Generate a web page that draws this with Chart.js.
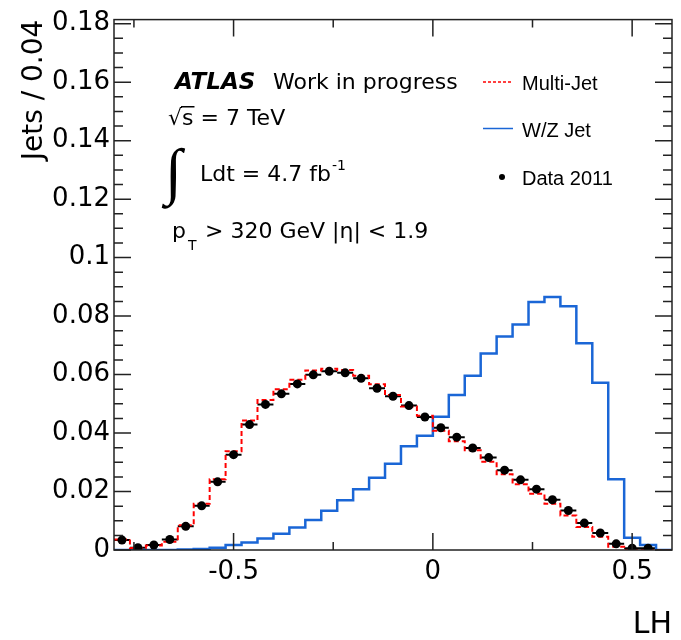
<!DOCTYPE html>
<html>
<head>
<meta charset="utf-8">
<title>LH discriminant</title>
<script src="https://cdn.jsdelivr.net/npm/chart.js@4.4.0/dist/chart.umd.min.js"></script>
<style>
  html, body { margin: 0; padding: 0; background: #fff; }
  canvas { display: block; }
</style>
</head>
<body>
<canvas id="lhChart" width="681" height="640"></canvas>
<script>
// bins of 0.04 in LH, from -0.8 to 0.6
const binWidth = 0.04;
const binCenters = [-0.78, -0.74, -0.70, -0.66, -0.62, -0.58, -0.54, -0.50, -0.46, -0.42,
                    -0.38, -0.34, -0.30, -0.26, -0.22, -0.18, -0.14, -0.10, -0.06, -0.02,
                     0.02,  0.06,  0.10,  0.14,  0.18,  0.22,  0.26,  0.30,  0.34,  0.38,
                     0.42,  0.46,  0.50,  0.54,  0.58];

const data2011 = [0.0034, 0.0008, 0.0017, 0.0036, 0.0081, 0.0151, 0.0233, 0.0326, 0.0429, 0.0498,
                  0.0534, 0.0568, 0.0599, 0.0611, 0.0606, 0.0587, 0.0553, 0.0526, 0.0494, 0.0455,
                  0.0418, 0.0386, 0.0349, 0.0316, 0.0273, 0.0240, 0.0208, 0.0172, 0.0135, 0.0092,
                  0.0058, 0.0021, 0.0006, 0.0006, null];

const multiJet = [0.0036, 0.0007, 0.0015, 0.0028, 0.0085, 0.0158, 0.0242, 0.0338, 0.0443, 0.0513,
                  0.0550, 0.0582, 0.0614, 0.0620, 0.0616, 0.0596, 0.0567, 0.0530, 0.0491, 0.0459,
                  0.0408, 0.0372, 0.0341, 0.0302, 0.0259, 0.0225, 0.0192, 0.0158, 0.0118, 0.0079,
                  0.0045, 0.0011, 0, 0, 0];

const wzJet = [0, 0, 0, 0, 0.0002, 0.0003, 0.0008, 0.0017, 0.0026, 0.0039,
               0.0056, 0.0077, 0.0103, 0.0134, 0.0170, 0.0208, 0.0247, 0.0295, 0.0355, 0.0391,
               0.0456, 0.0530, 0.0596, 0.0672, 0.0730, 0.0771, 0.0848, 0.0865, 0.0834, 0.0707,
               0.0572, 0.0242, 0.0042, 0.0017, 0];

const xTicks = [-0.5, 0, 0.5];
const xMinorTicks = [-0.75, -0.25, 0.25];
const yTicks = [0, 0.02, 0.04, 0.06, 0.08, 0.1, 0.12, 0.14, 0.16, 0.18];

const tickFont = { family: '"DejaVu Sans"', size: 26 };

// histogram outline: one point per lower bin edge + closing edge
function histPoints(values) {
  const pts = binCenters.map((c, i) => ({ x: c - binWidth / 2, y: values[i] }));
  pts.push({ x: binCenters[binCenters.length - 1] + binWidth / 2, y: values[values.length - 1] });
  return pts;
}

// ROOT style frame with inward ticks on all four sides
const framePlugin = {
  id: 'frame',
  afterDraw(chart) {
    const { ctx, chartArea: a, scales: { x, y } } = chart;
    ctx.save();
    ctx.strokeStyle = '#222';
    ctx.lineWidth = 1.5;
    ctx.strokeRect(a.left, a.top, a.right - a.left, a.bottom - a.top);
    ctx.beginPath();
    const tickX = (v, len) => {
      const px = x.getPixelForValue(v);
      ctx.moveTo(px, a.bottom); ctx.lineTo(px, a.bottom - len);
      ctx.moveTo(px, a.top); ctx.lineTo(px, a.top + len);
    };
    const tickY = (v, len) => {
      const py = y.getPixelForValue(v);
      ctx.moveTo(a.left, py); ctx.lineTo(a.left + len, py);
      ctx.moveTo(a.right, py); ctx.lineTo(a.right - len, py);
    };
    xTicks.forEach(v => tickX(v, 17));
    xMinorTicks.forEach(v => tickX(v, 8));
    for (let i = 0; i < yTicks.length; i++) {
      tickY(yTicks[i], 17);
      if (i < yTicks.length - 1) {
        const step = (yTicks[i + 1] - yTicks[i]) / 4;
        for (let k = 1; k < 4; k++) tickY(yTicks[i] + k * step, 9);
      }
    }
    ctx.stroke();
    ctx.restore();
  }
};

// horizontal bin-width bars on the data points
const errorBarPlugin = {
  id: 'errorBars',
  beforeDatasetsDraw(chart) {
    const { ctx, scales: { x, y } } = chart;
    ctx.save();
    ctx.strokeStyle = '#000';
    ctx.lineWidth = 2;
    ctx.beginPath();
    binCenters.forEach((c, i) => {
      if (data2011[i] === null) return;
      const py = y.getPixelForValue(data2011[i]);
      ctx.moveTo(x.getPixelForValue(c - binWidth / 2), py);
      ctx.lineTo(x.getPixelForValue(c + binWidth / 2), py);
    });
    ctx.stroke();
    ctx.restore();
  }
};

// ATLAS labels and the in-frame legend
const labelPlugin = {
  id: 'labels',
  afterDraw(chart) {
    const ctx = chart.ctx;
    ctx.save();
    ctx.fillStyle = '#000';
    ctx.textBaseline = 'alphabetic';
    ctx.textAlign = 'left';

    ctx.font = 'bold italic 23px "DejaVu Sans"';
    ctx.fillText('ATLAS', 175, 89);
    ctx.font = '22px "DejaVu Sans"';
    ctx.fillText('Work in progress', 273, 89);

    ctx.fillText('\u221A', 168, 125);
    const sx = 168 + ctx.measureText('\u221A').width;
    ctx.fillText('s = 7 TeV', sx, 125);
    ctx.fillRect(sx - 1, 106, ctx.measureText('s').width + 2, 1.5);

    ctx.font = '62px "Liberation Serif"';
    ctx.fillText('\u222B', 165, 192);
    ctx.font = '22px "DejaVu Sans"';
    ctx.fillText('Ldt = 4.7 fb', 200, 181);
    const fbEnd = 200 + ctx.measureText('Ldt = 4.7 fb').width;
    ctx.font = '14px "DejaVu Sans"';
    ctx.fillText('-1', fbEnd + 1, 170);

    ctx.font = '22px "DejaVu Sans"';
    ctx.fillText('p', 172, 238);
    ctx.font = '14px "DejaVu Sans"';
    ctx.fillText('T', 188, 250);
    ctx.font = '22px "DejaVu Sans"';
    ctx.fillText('> 320 GeV |\u03B7| < 1.9', 205, 238);

    // legend
    ctx.lineWidth = 1.5;
    ctx.strokeStyle = '#ff0000';
    ctx.setLineDash([3, 2]);
    ctx.beginPath(); ctx.moveTo(483, 82); ctx.lineTo(512, 82); ctx.stroke();
    ctx.setLineDash([]);
    ctx.strokeStyle = '#1a66d6';
    ctx.beginPath(); ctx.moveTo(483, 128.5); ctx.lineTo(513, 128.5); ctx.stroke();
    ctx.beginPath(); ctx.arc(502, 177, 3, 0, Math.PI * 2); ctx.fill();

    ctx.font = '20px "Liberation Sans"';
    ctx.fillText('Multi-Jet', 522, 90);
    ctx.fillText('W/Z Jet', 522, 137);
    ctx.fillText('Data 2011', 522, 185);
    ctx.restore();
  }
};

const ctx = document.getElementById('lhChart').getContext('2d');
new Chart(ctx, {
  type: 'line',
  data: {
    datasets: [
      {
        label: 'Data 2011',
        data: binCenters.map((c, i) => ({ x: c, y: data2011[i] })),
        showLine: false,
        pointRadius: 4.5,
        pointBackgroundColor: '#000',
        pointBorderWidth: 0
      },
      {
        label: 'Multi-Jet',
        data: histPoints(multiJet),
        stepped: 'before',
        borderColor: '#ff0000',
        borderWidth: 2,
        borderDash: [5, 3],
        pointRadius: 0,
        fill: false
      },
      {
        label: 'W/Z Jet',
        data: histPoints(wzJet),
        stepped: 'before',
        borderColor: '#1a66d6',
        borderWidth: 2.5,
        pointRadius: 0,
        fill: false
      }
    ]
  },
  options: {
    responsive: false,
    animation: false,
    layout: { padding: { left: 0, top: 13, right: 9, bottom: 0 } },
    plugins: { legend: { display: false }, tooltip: { enabled: false } },
    scales: {
      x: {
        type: 'linear',
        min: -0.8,
        max: 0.6,
        afterBuildTicks: s => { s.ticks = xTicks.map(v => ({ value: v })); },
        afterFit: s => { s.height = 90; },
        grid: { display: false, drawTicks: false },
        border: { display: false },
        ticks: { font: tickFont, color: '#000', padding: 7, maxRotation: 0, autoSkip: false,
                 callback: v => String(v) },
        title: { display: true, text: 'LH', align: 'end', color: '#000',
                 font: { family: '"DejaVu Sans"', size: 30, lineHeight: 1 },
                 padding: { top: 0, bottom: 0 } }
      },
      y: {
        min: 0,
        max: 0.1814,
        afterBuildTicks: s => { s.ticks = yTicks.map(v => ({ value: v })); },
        afterFit: s => { s.width = 114; },
        grid: { display: false, drawTicks: false },
        border: { display: false },
        ticks: { font: tickFont, color: '#000', padding: 4, autoSkip: false,
                 callback: v => String(v) },
        title: { display: true, text: 'Jets / 0.04', align: 'end', color: '#000',
                 font: { family: '"DejaVu Sans"', size: 28 },
                 padding: { top: 18, bottom: 0 } }
      }
    }
  },
  plugins: [framePlugin, errorBarPlugin, labelPlugin]
});
</script>
</body>
</html>
